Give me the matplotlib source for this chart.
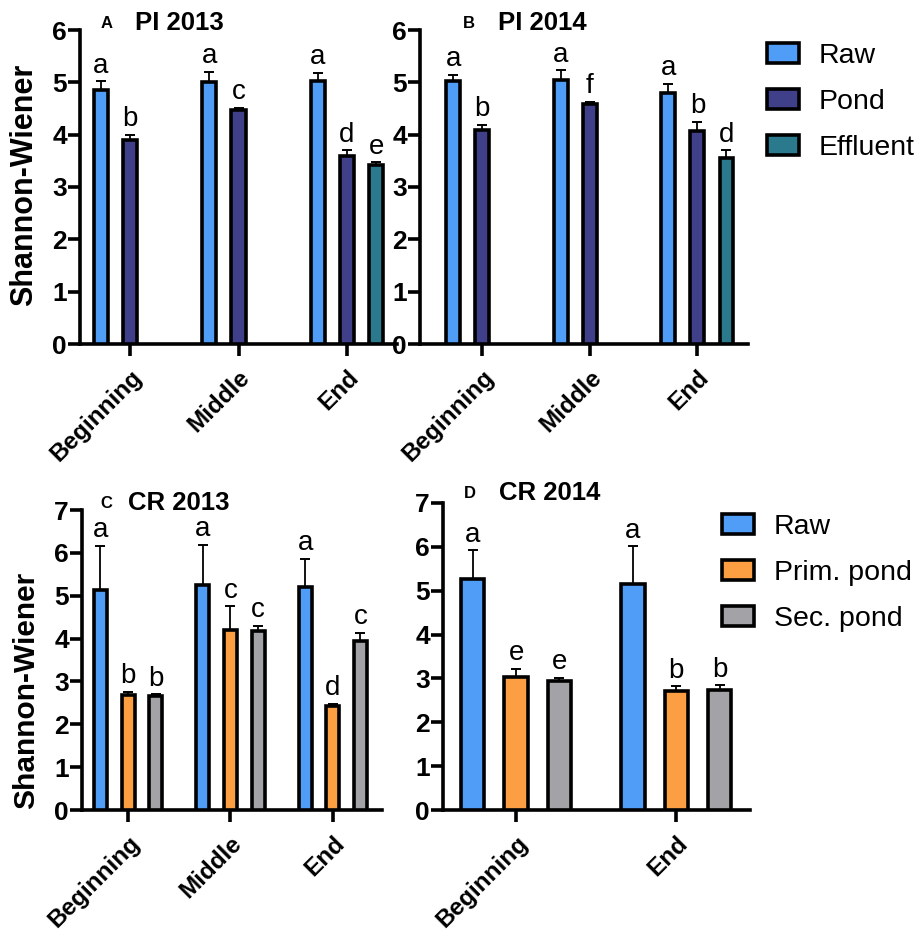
import matplotlib
matplotlib.use("Agg")
import matplotlib.pyplot as plt
from matplotlib.patches import Patch
import numpy as np

plt.rcParams['font.family'] = ['Liberation Sans', 'DejaVu Sans']

# colours
c_raw = '#509DF7'
c_pond = '#40408A'
c_eff = '#2B798C'
c_prim = '#FB9F42'
c_sec = '#A2A2A7'

# ---- PI 2013 (panel A)
pi_cats = ['Beginning', 'Middle', 'End']
pi13_raw = [4.85, 5.0, 5.03]
pi13_raw_err = [0.17, 0.2, 0.15]
pi13_pond = [3.9, 4.48, 3.6]
pi13_pond_err = [0.1, 0.03, 0.1]
pi13_eff = [None, None, 3.42]
pi13_eff_err = [None, None, 0.05]
pi13_letters = [['a', 'a', 'a'], ['b', 'c', 'd'], [None, None, 'e']]

# ---- PI 2014 (panel B)
pi14_raw = [5.02, 5.05, 4.8]
pi14_raw_err = [0.12, 0.18, 0.17]
pi14_pond = [4.08, 4.58, 4.07]
pi14_pond_err = [0.1, 0.04, 0.18]
pi14_eff = [None, None, 3.55]
pi14_eff_err = [None, None, 0.15]
pi14_letters = [['a', 'a', 'a'], ['b', 'f', 'b'], [None, None, 'd']]

# ---- CR 2013 (panel C)
cr13_cats = ['Beginning', 'Middle', 'End']
cr13_raw = [5.13, 5.25, 5.2]
cr13_raw_err = [1.03, 0.93, 0.66]
cr13_prim = [2.68, 4.2, 2.42]
cr13_prim_err = [0.08, 0.55, 0.05]
cr13_sec = [2.65, 4.17, 3.95]
cr13_sec_err = [0.05, 0.13, 0.18]
cr13_letters = [['a', 'a', 'a'], ['b', 'c', 'd'], ['b', 'c', 'c']]

# ---- CR 2014 (panel D)
cr14_cats = ['Beginning', 'End']
cr14_raw = [5.26, 5.15]
cr14_raw_err = [0.66, 0.86]
cr14_prim = [3.04, 2.72]
cr14_prim_err = [0.17, 0.1]
cr14_sec = [2.95, 2.74]
cr14_sec_err = [0.06, 0.1]
cr14_letters = [['a', 'a'], ['e', 'b'], ['e', 'b']]

W, H = 922, 932
fig = plt.figure(figsize=(W / 100, H / 100), dpi=100)


def px_axes(l, r, top, bot):
    return fig.add_axes([l / W, 1 - bot / H, (r - l) / W, (bot - top) / H])


def draw_panel(ax, cats, series, colors, letters, width, ymax, xlim):
    x = np.arange(len(cats))
    offs = [-0.27, 0.0, 0.27]
    for k, (vals, errs) in enumerate(series):
        for i in range(len(cats)):
            if vals[i] is None:
                continue
            xi = x[i] + offs[k]
            ax.bar(xi, vals[i], width, color=colors[k], edgecolor='black',
                   linewidth=2.6, zorder=3)
            ax.errorbar(xi, vals[i], yerr=[[0], [errs[i]]], fmt='none',
                        ecolor='black', elinewidth=1.3, capsize=3.8,
                        capthick=1.4, zorder=2)
            if letters[k][i]:
                ax.annotate(letters[k][i], (xi, vals[i] + errs[i]),
                            xytext=(0, 2), textcoords='offset points',
                            ha='center', va='bottom', fontsize=20)
    ax.set_xlim(*xlim)
    ax.set_ylim(0, ymax)
    ax.set_yticks(range(ymax + 1))
    ax.set_xticks(x)
    ax.set_xticklabels(cats, rotation=45, ha='right', va='top',
                       rotation_mode='anchor', fontsize=17.5, fontweight='bold')
    for lab in ax.get_yticklabels():
        lab.set_fontweight('bold')
        lab.set_fontsize(19)
    for s in ['top', 'right']:
        ax.spines[s].set_visible(False)
    for s in ['left', 'bottom']:
        ax.spines[s].set_linewidth(2.6)
    ax.tick_params(axis='y', length=8.5, width=2.6, pad=1)
    ax.tick_params(axis='x', length=8.5, width=2.6, pad=7)


axA = px_axes(80, 397, 30, 344)
draw_panel(axA, pi_cats,
           [(pi13_raw, pi13_raw_err), (pi13_pond, pi13_pond_err), (pi13_eff, pi13_eff_err)],
           [c_raw, c_pond, c_eff], pi13_letters, 0.13, 6, (-0.46, 2.46))

axB = px_axes(420, 748, 30, 344)
draw_panel(axB, pi_cats,
           [(pi14_raw, pi14_raw_err), (pi14_pond, pi14_pond_err), (pi14_eff, pi14_eff_err)],
           [c_raw, c_pond, c_eff], pi14_letters, 0.13, 6, (-0.58, 2.47))

axC = px_axes(82, 382, 510, 810)
draw_panel(axC, cr13_cats,
           [(cr13_raw, cr13_raw_err), (cr13_prim, cr13_prim_err), (cr13_sec, cr13_sec_err)],
           [c_raw, c_prim, c_sec], cr13_letters, 0.128, 7, (-0.45, 2.48))

axD = px_axes(443, 750, 503, 810)
draw_panel(axD, cr14_cats,
           [(cr14_raw, cr14_raw_err), (cr14_prim, cr14_prim_err), (cr14_sec, cr14_sec_err)],
           [c_raw, c_prim, c_sec], cr14_letters, 0.145, 7, (-0.456, 1.46))

# y labels
fig.text(24 / W, 1 - 185 / H, 'Shannon-Wiener', rotation=90, ha='center',
         va='center', fontsize=22, fontweight='bold')
fig.text(26 / W, 1 - 690 / H, 'Shannon-Wiener', rotation=90, ha='center',
         va='center', fontsize=21.5, fontweight='bold')

# panel titles
titles = [(107, 135, 23, 'A', 'PI 2013'), (469, 498, 23, 'B', 'PI 2014'),
          (106, 128, 503, 'C', 'CR 2013'), (470, 499, 493, 'D', 'CR 2014')]
for xl, xt, yc, letter, title in titles:
    fig.text(xl / W, 1 - yc / H, letter, ha='center', va='center',
             fontsize=12, fontweight='bold')
    fig.text(xt / W, 1 - yc / H, title, ha='left', va='center',
             fontsize=18.5, fontweight='bold')

# legends
leg_kw = dict(frameon=False, fontsize=20.5, handlelength=1.12,
              handleheight=0.7, handletextpad=0.7, labelspacing=0.7,
              borderpad=0, borderaxespad=0, loc='upper left')
h1 = [Patch(facecolor=c, edgecolor='black', linewidth=2.6)
      for c in [c_raw, c_pond, c_eff]]
fig.legend(h1, ['Raw', 'Pond', 'Effluent'],
           bbox_to_anchor=(767 / W, 1 - 43 / H), **leg_kw)
h2 = [Patch(facecolor=c, edgecolor='black', linewidth=2.6)
      for c in [c_raw, c_prim, c_sec]]
fig.legend(h2, ['Raw', 'Prim. pond', 'Sec. pond'],
           bbox_to_anchor=(722 / W, 1 - 514 / H), **leg_kw)

fig.savefig('out.png', dpi=100)
